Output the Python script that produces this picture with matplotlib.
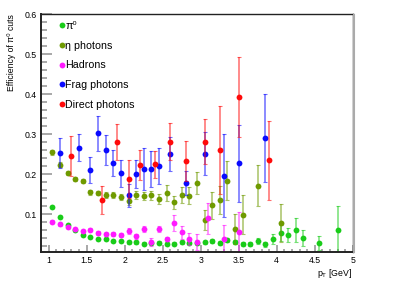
import matplotlib
matplotlib.use("Agg")
import matplotlib.pyplot as plt
from matplotlib.lines import Line2D
from matplotlib.ticker import MultipleLocator

plt.rcParams["font.family"] = ["Liberation Sans", "DejaVu Sans"]
plt.rcParams["mathtext.fontset"] = "custom"
plt.rcParams["mathtext.rm"] = "Liberation Sans"
plt.rcParams["mathtext.it"] = "Liberation Sans:italic"

# -------------------------
# Data
# -------------------------
pi0_x = [1.05, 1.15, 1.25, 1.35, 1.45, 1.55, 1.65, 1.75, 1.85, 1.95,
         2.05, 2.15, 2.25, 2.35, 2.45, 2.55, 2.65, 2.75, 2.85, 2.95,
         3.05, 3.15, 3.25, 3.35, 3.45, 3.55, 3.65, 3.75, 3.85, 3.95,
         4.05, 4.15, 4.25, 4.35, 4.55, 4.8]
pi0_y = [0.117, 0.092, 0.072, 0.060, 0.0475, 0.043, 0.038, 0.037, 0.033, 0.032,
         0.029, 0.029, 0.026, 0.028, 0.028, 0.026, 0.026, 0.029, 0.028, 0.028,
         0.029, 0.033, 0.027, 0.035, 0.030, 0.025, 0.025, 0.032, 0.024, 0.038,
         0.0525, 0.048, 0.060, 0.041, 0.0275, 0.060]
pi0_err = [0.003, 0.003, 0.003, 0.003, 0.003, 0.003, 0.003, 0.003, 0.003, 0.003,
           0.003, 0.003, 0.003, 0.003, 0.004, 0.004, 0.004, 0.004, 0.004, 0.004,
           0.004, 0.005, 0.005, 0.005, 0.005, 0.006, 0.006, 0.007, 0.007, 0.013,
           0.020, 0.018, 0.030, 0.020, 0.017, 0.060]

eta_x = [1.05, 1.15, 1.25, 1.35, 1.45, 1.55, 1.65, 1.75, 1.85, 1.95,
         2.05, 2.15, 2.25, 2.35, 2.45, 2.55, 2.65, 2.75, 2.85, 2.95,
         3.05, 3.15, 3.25, 3.35, 3.45, 3.55, 3.75, 4.05]
eta_y = [0.254, 0.223, 0.202, 0.187, 0.182, 0.154, 0.1525, 0.148, 0.147, 0.143,
         0.1325, 0.148, 0.146, 0.147, 0.138, 0.152, 0.129, 0.1475, 0.146, 0.178,
         0.084, 0.122, 0.134, 0.183, 0.063, 0.098, 0.171, 0.0775]
eta_err = [0.006, 0.006, 0.005, 0.005, 0.005, 0.006, 0.006, 0.007, 0.007, 0.008,
           0.009, 0.010, 0.010, 0.011, 0.012, 0.020, 0.017, 0.020, 0.022, 0.028,
           0.025, 0.034, 0.035, 0.049, 0.037, 0.049, 0.052, 0.047]

had_x = [1.05, 1.15, 1.25, 1.35, 1.45, 1.55, 1.65, 1.75, 1.85, 1.95,
         2.05, 2.15, 2.25, 2.35, 2.45, 2.55, 2.65, 2.75, 2.85, 2.95,
         3.1, 3.3, 3.5]
had_y = [0.081, 0.074, 0.067, 0.063, 0.0575, 0.061, 0.0525, 0.049, 0.051, 0.047,
         0.058, 0.044, 0.063, 0.031, 0.062, 0.0375, 0.077, 0.054, 0.0375, 0.030,
         0.089, 0.037, 0.055]
had_err = [0.003, 0.003, 0.003, 0.003, 0.003, 0.004, 0.004, 0.004, 0.005, 0.005,
           0.007, 0.006, 0.008, 0.010, 0.008, 0.006, 0.020, 0.017, 0.015, 0.020,
           0.038, 0.036, 0.050]

frag_x = [1.15, 1.4, 1.55, 1.65, 1.75, 1.85, 1.95, 2.05, 2.15, 2.25,
          2.35, 2.45, 2.6, 2.8, 3.05, 3.3, 3.5, 3.85]
frag_y = [0.253, 0.266, 0.210, 0.302, 0.260, 0.2275, 0.202, 0.1465, 0.200, 0.2125,
          0.212, 0.220, 0.250, 0.178, 0.251, 0.196, 0.227, 0.291]
frag_err = [0.038, 0.033, 0.033, 0.044, 0.038, 0.033, 0.034, 0.029, 0.034, 0.052,
            0.045, 0.045, 0.042, 0.030, 0.054, 0.104, 0.096, 0.110]

dir_x = [1.3, 1.7, 1.9, 2.05, 2.2, 2.4, 2.6, 2.8, 3.05, 3.25, 3.5, 3.9]
dir_y = [0.245, 0.135, 0.279, 0.1875, 0.2225, 0.224, 0.281, 0.232, 0.281, 0.261,
         0.393, 0.234]
dir_err = [0.050, 0.035, 0.045, 0.048, 0.037, 0.033, 0.047, 0.050, 0.056, 0.110,
           0.100, 0.099]

series = [
    ("π⁰", pi0_x, pi0_y, pi0_err, "#19cc19"),
    ("η photons", eta_x, eta_y, eta_err, "#6f9a00"),
    ("Hadrons", had_x, had_y, had_err, "#ff1aff"),
    ("Frag photons", frag_x, frag_y, frag_err, "#0a0aff"),
    ("Direct photons", dir_x, dir_y, dir_err, "#ff0a0a"),
]


# -------------------------
# Plot
# -------------------------
fig = plt.figure(figsize=(4.15, 2.81), dpi=100)
ax = fig.add_axes([0.099, 0.103, 0.751, 0.847])

handles = []
for label, x, y, err, color in series:
    ax.errorbar(x, y, yerr=err, fmt="none", ecolor=color, alpha=0.6,
                elinewidth=1.1, capsize=1.2, capthick=0.8)
    ax.plot(x, y, "o", color=color, ms=4.2, mew=0)
    handles.append(Line2D([], [], ls="none", marker="o", color=color,
                          ms=4.2, mew=0, label=label))

ax.set_xlim(0.9, 5.0)
ax.set_ylim(0.005, 0.6)

ax.xaxis.set_minor_locator(MultipleLocator(0.1))
ax.yaxis.set_minor_locator(MultipleLocator(0.02))
ax.set_xticks([1, 1.5, 2, 2.5, 3, 3.5, 4, 4.5, 5])
ax.set_xticklabels(["1", "1.5", "2", "2.5", "3", "3.5", "4", "4.5", "5"])
ax.set_yticks([0.1, 0.2, 0.3, 0.4, 0.5, 0.6])
ax.set_yticklabels(["0.1", "0.2", "0.3", "0.4", "0.5", "0.6"])

ax.tick_params(which="both", direction="in", color="#999999", width=1.2,
               labelsize=6.3, top=False, right=False)
ax.tick_params(axis="y", which="major", length=8, pad=3)
ax.tick_params(axis="y", which="minor", length=4)
ax.tick_params(axis="x", which="major", length=5, pad=3)
ax.tick_params(axis="x", which="minor", length=2.5)

for side in ["left", "bottom", "top", "right"]:
    ax.spines[side].set_color("#222222")
    ax.spines[side].set_linewidth(1.0)
ax.spines["left"].set_linewidth(1.4)
ax.spines["bottom"].set_linewidth(1.4)

# frame shadow on the right, as in the ROOT canvas
fig.add_artist(Line2D([0.853, 0.853], [0.103, 0.948], color="#aaaaaa",
                      lw=1.5, transform=fig.transFigure))

ax.set_ylabel("Efficiency of π⁰ cuts", fontsize=6.2, loc="top", labelpad=6)
ax.set_xlabel(r"p$_\mathrm{T}$ [GeV]", fontsize=6.3, loc="right", labelpad=1)

ax.legend(handles=handles, loc="upper left", bbox_to_anchor=(0.059, 0.970),
          frameon=False, fontsize=7.7, handlelength=0.5, handletextpad=0.05,
          labelspacing=0.9, borderpad=0, borderaxespad=0)

fig.savefig("out.png", dpi=100)
